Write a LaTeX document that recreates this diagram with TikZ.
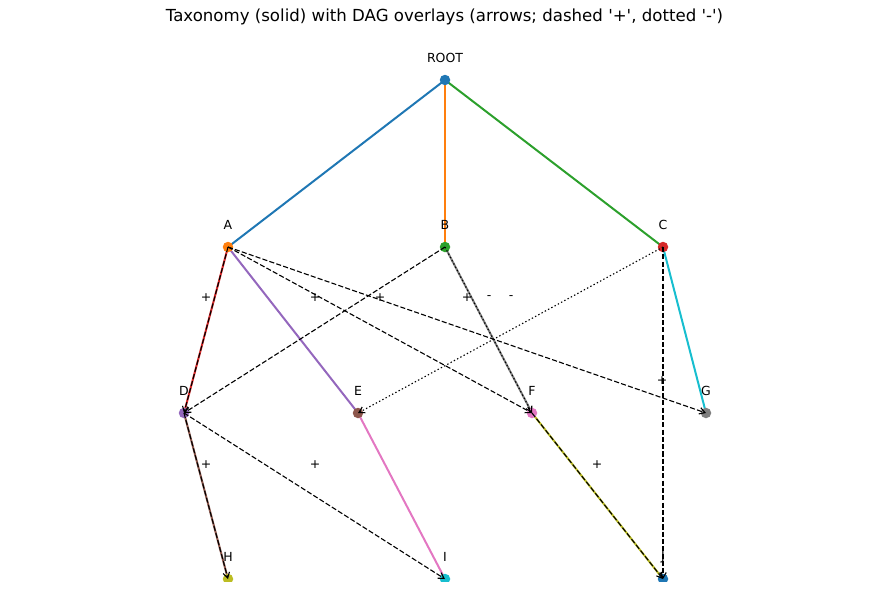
\documentclass[tikz,border=0pt]{standalone}
\usepackage{fontspec}
\setmainfont{DejaVu Sans}
\usetikzlibrary{arrows.meta}
\pgfdeclarelayer{bg}
\pgfsetlayers{bg,main}
\definecolor{tblue}{HTML}{1F77B4}
\definecolor{torange}{HTML}{FF7F0E}
\definecolor{tgreen}{HTML}{2CA02C}
\definecolor{tred}{HTML}{D62728}
\definecolor{tpurple}{HTML}{9467BD}
\definecolor{tbrown}{HTML}{8C564B}
\definecolor{tpink}{HTML}{E377C2}
\definecolor{tgray}{HTML}{7F7F7F}
\definecolor{tolive}{HTML}{BCBD22}
\definecolor{tcyan}{HTML}{17BECF}
\begin{document}
\begin{tikzpicture}[x=1pt,y=-1pt,
  dot/.style={circle,inner sep=0pt,minimum size=10.5pt,draw=none},
  lbl/.style={font=\fontsize{12.5}{14}\selectfont,inner sep=0pt},
  ttl/.style={font=\fontsize{16.6}{19}\selectfont,inner sep=0pt},
  tree/.style={line width=2pt},
  ovl/.style={black,line width=1.1pt,-{Straight Barb[length=5.5pt,width=6.5pt,line width=1.1pt]}},
  plusedge/.style={ovl,dash pattern=on 5.1pt off 2.2pt},
  minusedge/.style={ovl,dash pattern=on 1.4pt off 2.3pt}]
\useasboundingbox (0,0) rectangle (889,590);
\node[ttl] (title) at (444.5,17) {Taxonomy (solid) with DAG overlays (arrows; dashed \textquotesingle+\textquotesingle, dotted \textquotesingle-\textquotesingle)};
\begin{scope}
\clip (0,0) rectangle (889,581);
% markers
\node[dot,fill=tblue]   (ROOT) at (445,80) {};
\node[dot,fill=torange] (A) at (228,247) {};
\node[dot,fill=tgreen]  (B) at (445,247) {};
\node[dot,fill=tred]    (C) at (663,247) {};
\node[dot,fill=tpurple] (D) at (184,413) {};
\node[dot,fill=tbrown]  (E) at (358,413) {};
\node[dot,fill=tpink]   (F) at (532,413) {};
\node[dot,fill=tgray]   (G) at (706,413) {};
\node[dot,fill=tolive]  (H) at (228,579) {};
\node[dot,fill=tcyan]   (I) at (445,579) {};
\node[dot,fill=tblue]   (J) at (663,579) {};
% node labels
\node[lbl] (lROOT) at (445,58) {ROOT};
\node[lbl] (lA) at (228,225) {A};
\node[lbl] (lB) at (445,225) {B};
\node[lbl] (lC) at (663,225) {C};
\node[lbl] (lD) at (184,391) {D};
\node[lbl] (lE) at (358,391) {E};
\node[lbl] (lF) at (532,391) {F};
\node[lbl] (lG) at (706,391) {G};
\node[lbl] (lH) at (228,557) {H};
\node[lbl] (lI) at (445,557) {I};
\node[lbl] (lJ) at (663,557) {J};
% tree edges
\begin{pgfonlayer}{bg}
\draw[tree,tblue]   (ROOT.center) -- (A.center);
\draw[tree,torange] (ROOT.center) -- (B.center);
\draw[tree,tgreen]  (ROOT.center) -- (C.center);
\draw[tree,tred]    (A.center) -- (D.center);
\draw[tree,tpurple] (A.center) -- (E.center);
\draw[tree,tbrown]  (D.center) -- (H.center);
\draw[tree,tpink]   (E.center) -- (I.center);
\draw[tree,tgray]   (B.center) -- (F.center);
\draw[tree,tolive]  (F.center) -- (J.center);
\draw[tree,tcyan]   (C.center) -- (G.center);
\end{pgfonlayer}
% DAG overlays
\draw[plusedge] (A.center) -- (D.center);
\draw[plusedge] (A.center) -- (F.center);
\draw[plusedge] (A.center) -- (G.center);
\draw[plusedge] (B.center) -- (D.center);
\draw[minusedge] (B.center) -- (F.center);
\draw[minusedge] (C.center) -- (E.center);
\draw[plusedge] (C.center) -- (J.center);
\draw[plusedge] (D.center) -- (H.center);
\draw[plusedge] (D.center) -- (I.center);
\draw[plusedge] (F.center) -- (J.center);
% overlay labels
\node[lbl] (sAD) at (206,298) {+};
\node[lbl] (sBD) at (315,298) {+};
\node[lbl] (sAF) at (380,298) {+};
\node[lbl] (sAG) at (467,298) {+};
\node[lbl] (sBF) at (489,298) {-};
\node[lbl] (sCE) at (511,298) {-};
\node[lbl] (sCJ) at (662,381) {+};
\node[lbl] (sDH) at (206,465) {+};
\node[lbl] (sDI) at (315,465) {+};
\node[lbl] (sFJ) at (597,465) {+};
\end{scope}
\end{tikzpicture}
\end{document}
